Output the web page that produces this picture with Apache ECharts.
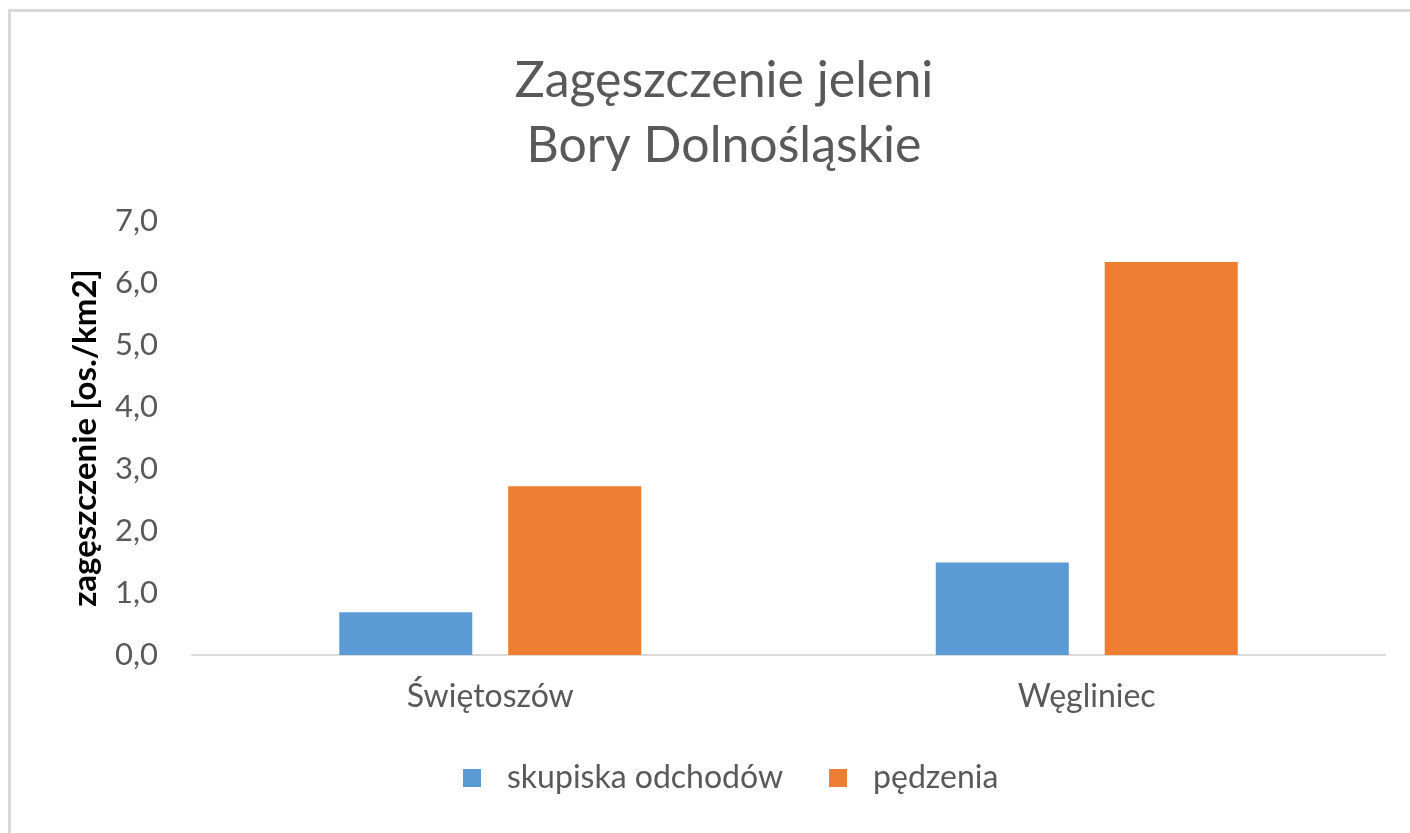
<!DOCTYPE html>
<html>
<head>
<meta charset="utf-8">
<script src="https://cdn.jsdelivr.net/npm/echarts@6/dist/echarts.min.js"></script>
<style>
html,body{margin:0;padding:0;background:#fff;}
#frame{position:absolute;left:8px;top:9px;width:1402px;height:824px;border-top:3px solid #d9d9d9;border-left:3px solid #d9d9d9;box-sizing:border-box;}
#chart{position:absolute;left:0;top:0;width:1410px;height:833px;}
</style>
</head>
<body>
<div id="frame"></div>
<div id="chart"></div>
<script>
const categories = ['Świętoszów', 'Węgliniec'];
const seriesNames = ['skupiska odchodów', 'pędzenia'];
const skupiska = [0.69, 1.49];
const pedzenia = [2.72, 6.34];
const titleLines = ['Zagęszczenie jeleni', 'Bory Dolnośląskie'];
const yAxisName = 'zagęszczenie [os./km2]';

const FONT = 'Lato, "Open Sans", sans-serif';
const chart = echarts.init(document.getElementById('chart'));
chart.setOption({
  backgroundColor: 'transparent',
  animation: false,
  title: {
    text: titleLines.join('\n'),
    left: 719,
    textAlign: 'center',
    top: 43,
    textStyle: { fontFamily: FONT, fontSize: 50, fontWeight: 'normal', color: '#595959', lineHeight: 65 }
  },
  legend: {
    bottom: 34,
    left: 458,
    itemWidth: 18,
    itemHeight: 18,
    itemGap: 46,
    icon: 'rect',
    textStyle: { fontFamily: FONT, fontSize: 32, color: '#595959', padding: [0, 0, 0, 21] },
    data: seriesNames
  },
  grid: { left: 192, right: 25, top: 221, bottom: 178, containLabel: false },
  xAxis: {
    type: 'category',
    data: categories,
    axisLine: { lineStyle: { color: '#d9d9d9', width: 2 } },
    axisTick: { show: false },
    axisLabel: { fontFamily: FONT, fontSize: 32, color: '#595959', margin: 26 }
  },
  yAxis: {
    type: 'value',
    min: 0, max: 7, interval: 1,
    name: yAxisName,
    nameLocation: 'middle',
    nameGap: 90,
    nameTextStyle: { fontFamily: FONT, fontSize: 33, fontWeight: 'bold', color: '#000' },
    axisLine: { show: false },
    axisTick: { show: false },
    splitLine: { show: false },
    axisLabel: {
      fontFamily: FONT, fontSize: 31, color: '#595959', margin: 34,
      formatter: v => v.toFixed(1).replace('.', ',')
    }
  },
  series: [
    { name: seriesNames[0], type: 'bar', data: skupiska, barWidth: '22.3%', barGap: '27%',
      itemStyle: { color: '#5b9bd5' } },
    { name: seriesNames[1], type: 'bar', data: pedzenia, barWidth: '22.3%',
      itemStyle: { color: '#ed7d31' } }
  ]
});
</script>
</body>
</html>
